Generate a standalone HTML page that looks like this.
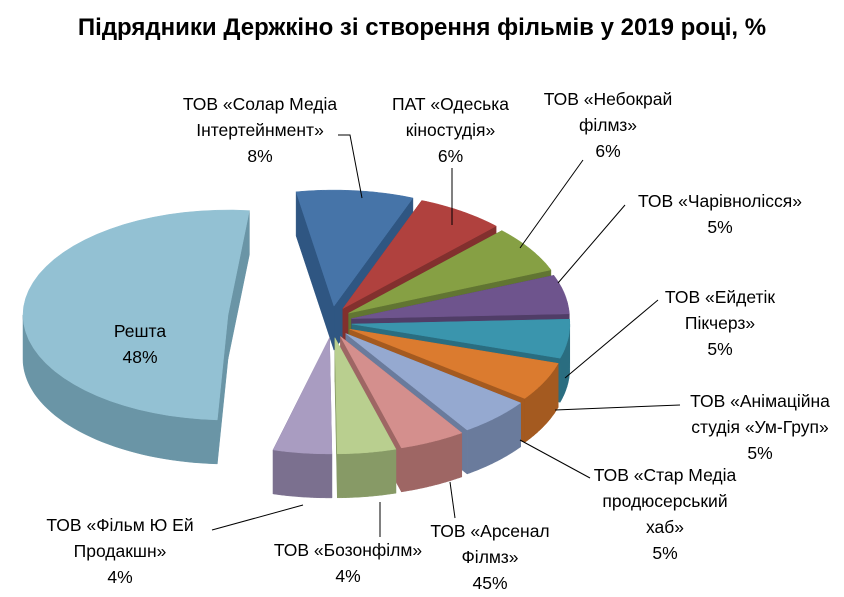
<!DOCTYPE html>
<html><head><meta charset="utf-8"><style>
body{margin:0;background:#fff;}
#w{position:relative;width:844px;height:597px;overflow:hidden;font-family:"Liberation Sans","DejaVu Sans",sans-serif;}
.t{position:absolute;left:0;width:844px;top:14px;text-align:center;font-weight:bold;font-size:24px;color:#000;}
.l{position:absolute;font-size:17.5px;line-height:26px;text-align:center;color:#000;white-space:nowrap;}
svg{position:absolute;left:0;top:0;}
</style></head><body><div id="w">
<svg id="s" width="844" height="597"></svg>
<div class="t">Підрядники Держкіно зі створення фільмів у 2019 році, %</div>
<div class="l" style="left:170px;top:91px;width:180px">ТОВ «Солар Медіа<br>Інтертейнмент»<br>8%</div>
<div class="l" style="left:378px;top:91px;width:145px">ПАТ «Одеська<br>кіностудія»<br>6%</div>
<div class="l" style="left:528px;top:86px;width:160px">ТОВ «Небокрай<br>філмз»<br>6%</div>
<div class="l" style="left:620px;top:188px;width:200px">ТОВ «Чарівнолісся»<br>5%</div>
<div class="l" style="left:640px;top:284px;width:160px">ТОВ «Ейдетік<br>Пікчерз»<br>5%</div>
<div class="l" style="left:675px;top:388px;width:170px">ТОВ «Анімаційна<br>студія «Ум-Груп»<br>5%</div>
<div class="l" style="left:575px;top:462px;width:180px">ТОВ «Стар Медіа<br>продюсерський<br>хаб»<br>5%</div>
<div class="l" style="left:430px;top:518px;width:120px">ТОВ «Арсенал<br>Філмз»<br>45%</div>
<div class="l" style="left:258px;top:537px;width:180px">ТОВ «Бозонфілм»<br>4%</div>
<div class="l" style="left:25px;top:512px;width:190px">ТОВ «Фільм Ю Ей<br>Продакшн»<br>4%</div>
<div class="l" style="left:90px;top:318px;width:100px">Решта<br>48%</div>
</div>
<script>
var s=document.getElementById('s');
var cx=332,cy=322,D=44;
var data=[[8,'#4674a8','#2f5682'],[6,'#b0413e','#82302e'],[6,'#86a044','#617532'],[5,'#6e548d','#503d67'],[5,'#3a95ad','#2a6d80'],[5,'#db7b2f','#a45a20'],[5,'#95a9d0','#6a7b9c'],[4.5,'#d48f8d','#9e6664'],[4,'#b9cf8f','#879a66'],[4,'#a99cc1','#7b708f']];
var a=-100,sl=[];
data.forEach(d=>{var sw=d[0]/52.5*205;var a0=a,a1=a+sw;a=a1;var m=(a0+a1)/2*Math.PI/180;
var ox=cx+20*Math.cos(m),oy=cy+20*Math.sin(m)*0.8;sl.push({a0,a1,ox,oy,c:d[1],k:d[2],m,rx:218,ry:116});});
var resta={a0:93,a1:276,ox:228,oy:315,rx:205,ry:105,c:'#93c1d3',k:'#6a95a6',m:Math.PI};
function P(o,t,dz){t=t*Math.PI/180;return [o.ox+o.rx*Math.cos(t),o.oy+o.ry*Math.sin(t)+(dz||0)];}
function arc(o,t0,t1,dz){var r='';for(var i=0;i<=40;i++){var t=t0+(t1-t0)*i/40;var p=P(o,t,dz);r+=(i?'L':'M')+p[0].toFixed(1)+' '+p[1].toFixed(1);}return r;}
function add(d,f){var e=document.createElementNS('http://www.w3.org/2000/svg','path');e.setAttribute('d',d);e.setAttribute('fill',f);e.setAttribute('stroke',f);e.setAttribute('stroke-width','0.5');s.appendChild(e);}
function draw(o){
 [o.a0,o.a1].forEach(t=>{var p=P(o,t);add('M'+o.ox+' '+o.oy+'L'+p[0]+' '+p[1]+'L'+p[0]+' '+(p[1]+D)+'L'+o.ox+' '+(o.oy+D)+'Z',o.k);});
 for(var base=-360;base<=360;base+=360){var s0=Math.max(o.a0,base),s1=Math.min(o.a1,base+180);
  if(s1>s0){add(arc(o,s0,s1,0)+arc(o,s1,s0,D).replace('M','L')+'Z',o.k);}}
 add('M'+o.ox+' '+o.oy+arc(o,o.a0,o.a1,0).replace('M','L')+'Z',o.c);
}
draw(resta);
sl.slice().sort((x,y)=>Math.sin(x.m)-Math.sin(y.m)).forEach(draw);
var lines=[[338,135,350,135,362,198],[452,168,452,225],[583,160,520,248],[625,205,558,283],[658,300,565,378],[680,405,555,410],[590,478,520,440],[455,518,450,482],[380,537,380,502],[212,530,303,505]];
lines.forEach(l=>{var d='M'+l[0]+' '+l[1];for(var i=2;i<l.length;i+=2)d+='L'+l[i]+' '+l[i+1];var e=document.createElementNS('http://www.w3.org/2000/svg','path');e.setAttribute('d',d);e.setAttribute('fill','none');e.setAttribute('stroke','#000');e.setAttribute('stroke-width','1');s.appendChild(e);});
</script>
</body></html>
